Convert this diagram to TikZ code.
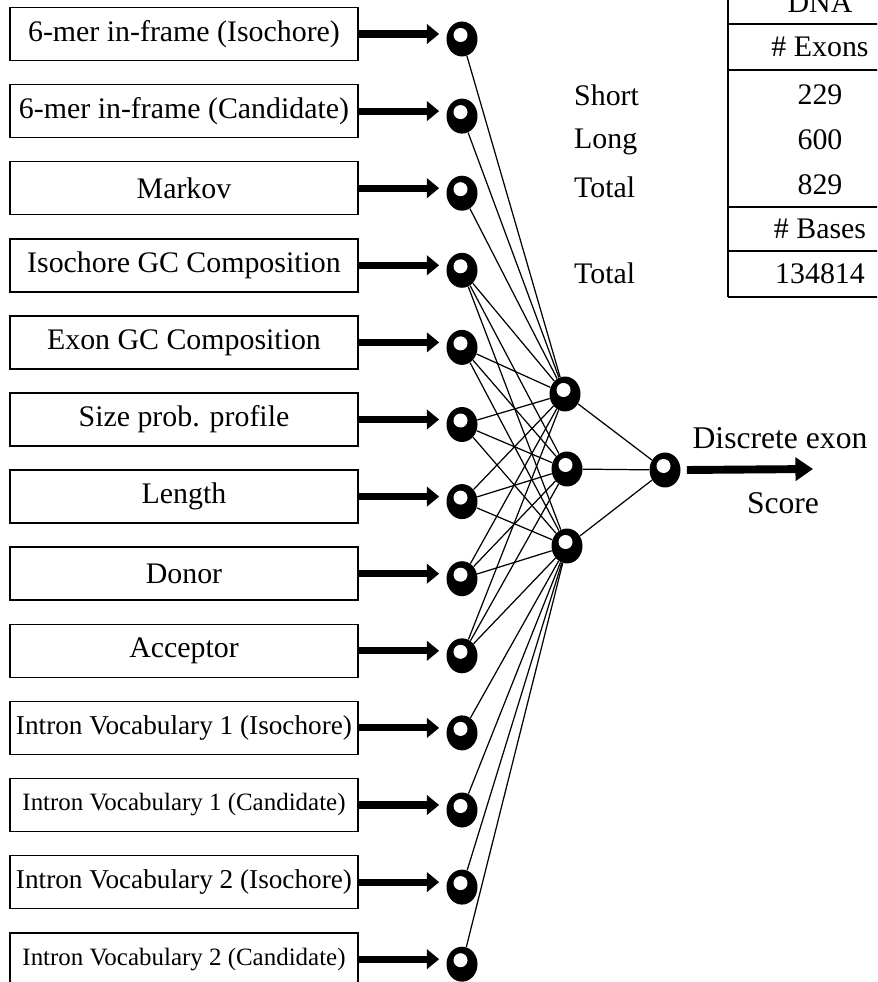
\documentclass[tikz,border=0pt]{standalone}
\usepackage{fontspec}
\setmainfont{Liberation Serif}
\usetikzlibrary{arrows.meta,shapes.geometric}

\tikzset{
  inbox/.style={draw,line width=0.9pt,minimum width=6.96cm,minimum height=1.06cm,inner sep=1pt},
  neuron/.style={ellipse,fill=black,minimum width=0.62cm,minimum height=0.7cm,inner sep=0pt,
    path picture={\fill[white] ([xshift=-0.03cm,yshift=0.08cm]path picture bounding box.center) circle (0.14cm);}},
  feed/.style={line width=4pt,-{Triangle[length=7pt,width=11pt]},shorten >=0.14cm},
  link/.style={line width=0.7pt},
  tabtext/.style={font=\fontsize{17}{19}\selectfont}
}

\begin{document}
\begin{tikzpicture}[x=0.02cm,y=-0.02cm]
        \useasboundingbox (0,0) rectangle (877,982);
        \clip (0,0) rectangle (877,982);

        % inputs
        \foreach \i/\txt/\fs [evaluate=\i as \yy using 34+77.1*(\i-1)] in {
            1/{6-mer in-frame (Isochore)}/17,
            2/{6-mer in-frame (Candidate)}/17,
            3/{Markov}/17,
            4/{Isochore GC Composition}/17,
            5/{Exon GC Composition}/17,
            6/{Size prob. profile}/17,
            7/{Length}/17,
            8/{Donor}/17,
            9/{Acceptor}/17,
            10/{Intron Vocabulary 1 (Isochore)}/15.5,
            11/{Intron Vocabulary 1 (Candidate)}/14.2,
            12/{Intron Vocabulary 2 (Isochore)}/15.5,
            13/{Intron Vocabulary 2 (Candidate)}/14.2} {
            \node[inbox,font=\fontsize{\fs}{18}\selectfont] (b\i) at (184,\yy) {\txt};
            \node[neuron] (n\i) at (462,\yy+5) {};
            \draw[feed] (b\i.east) -- (b\i.east -| n\i.west);
        }

        % hidden and output layer
        \node[neuron] (h1) at (565,394) {};
        \node[neuron] (h2) at (567,469) {};
        \node[neuron] (h3) at (567,546) {};
        \node[neuron] (out) at (665,470) {};

        % weights
        \foreach \i in {1,2,3} \draw[link] (n\i) -- (h1);
        \foreach \i in {4,...,9} {
            \foreach \j in {1,2,3} \draw[link] (n\i) -- (h\j);
        }
        \foreach \i in {10,...,13} \draw[link] (n\i) -- (h3);
        \foreach \j in {1,2,3} \draw[link] (h\j) -- (out);

        % score
        \coordinate (tip) at (813,469);
        \draw[line width=4.5pt,-{Triangle[length=10pt,width=13pt]}] (out.east) ++(6,0) -- (tip);
        \node[font=\fontsize{18}{20}\selectfont] (disc) at (780,438) {Discrete exon};
        \node[font=\fontsize{18}{20}\selectfont] (score) at (783,503) {Score};

        % table
        \draw[line width=1pt] (728,0) -- (728,297);
        \foreach \yy in {24,70,207,251,297} \draw[line width=1pt] (728,\yy) -- (900,\yy);
        \node[tabtext] (dna) at (820,3) {DNA};
        \node[tabtext] (nex) at (820,47) {\# Exons};
        \node[tabtext] (v1) at (820,95) {229};
        \node[tabtext] (v2) at (820,140) {600};
        \node[tabtext] (v3) at (820,185) {829};
        \node[tabtext] (nba) at (820,229) {\# Bases};
        \node[tabtext] (v4) at (820,274) {134814};
        \node[tabtext,anchor=west] (short) at (568,95) {Short};
        \node[tabtext,anchor=west] (long) at (568,142) {Long};
        \node[tabtext,anchor=west] (tot1) at (568,187) {Total};
        \node[tabtext,anchor=west] (tot2) at (568,273) {Total};
\end{tikzpicture}
\end{document}
